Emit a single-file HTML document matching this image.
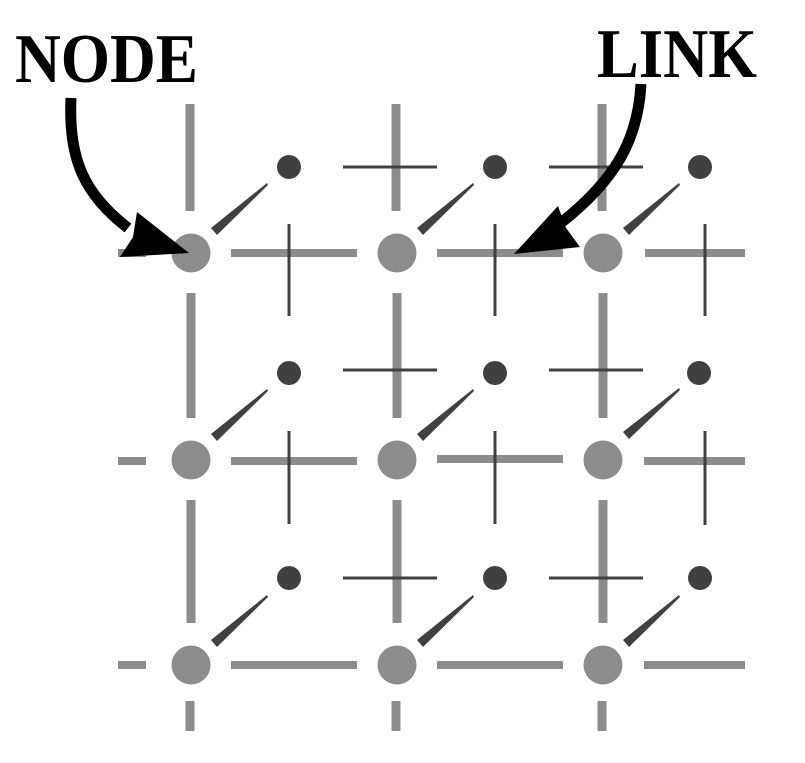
<!DOCTYPE html>
<html><head><style>html,body{margin:0;padding:0;background:#fff}svg{display:block}</style></head>
<body>
<svg width="805" height="763" viewBox="0 0 805 763" xmlns="http://www.w3.org/2000/svg">
<g stroke="#8c8c8c" stroke-width="9" fill="none">
<line x1="190" y1="104" x2="190" y2="211"/><line x1="396" y1="104" x2="396" y2="211"/><line x1="602" y1="104" x2="602" y2="211"/>
<line x1="191" y1="293" x2="191" y2="418"/><line x1="397" y1="293" x2="397" y2="418"/><line x1="603" y1="293" x2="603" y2="418"/>
<line x1="191" y1="500" x2="191" y2="623"/><line x1="397" y1="500" x2="397" y2="623"/><line x1="603" y1="500" x2="603" y2="623"/>
<line x1="190" y1="701" x2="190" y2="731"/><line x1="396" y1="701" x2="396" y2="731"/><line x1="602" y1="701" x2="602" y2="731"/>
<g stroke-width="8">
<line x1="118" y1="253" x2="146" y2="253"/><line x1="231" y1="253" x2="357" y2="253"/><line x1="437" y1="253" x2="563" y2="253"/><line x1="645" y1="253" x2="745" y2="253"/>
<line x1="118" y1="461" x2="146" y2="461"/><line x1="231" y1="461" x2="357" y2="461"/><line x1="437" y1="459" x2="563" y2="459"/><line x1="644" y1="461" x2="745" y2="461"/>
<line x1="118" y1="665" x2="146" y2="665"/><line x1="231" y1="665" x2="357" y2="665"/><line x1="437" y1="665" x2="563" y2="665"/><line x1="644" y1="665" x2="745" y2="665"/>
</g>
</g>
<g stroke="#404040" stroke-width="3">
<line x1="343" y1="167" x2="437" y2="167"/><line x1="549" y1="167" x2="643" y2="167"/>
<line x1="343" y1="370" x2="437" y2="370"/><line x1="549" y1="370" x2="643" y2="370"/>
<line x1="343" y1="578" x2="437" y2="578"/><line x1="549" y1="578" x2="643" y2="578"/>
<line x1="289" y1="224" x2="289" y2="316"/><line x1="495" y1="224" x2="495" y2="316"/><line x1="705" y1="224" x2="705" y2="316"/>
<line x1="289" y1="431" x2="289" y2="524"/><line x1="495" y1="431" x2="495" y2="524"/><line x1="705" y1="431" x2="705" y2="525"/>
</g>
<g fill="#8c8c8c">
<circle cx="191" cy="253" r="19.5"/><circle cx="397" cy="253" r="19.5"/><circle cx="603" cy="253" r="19.5"/>
<circle cx="191" cy="460" r="19.5"/><circle cx="397" cy="460" r="19.5"/><circle cx="603" cy="460" r="19.5"/>
<circle cx="191" cy="665" r="19.5"/><circle cx="397" cy="665" r="19.5"/><circle cx="603" cy="665" r="19.5"/>
</g>
<g fill="#404040">
<circle cx="289" cy="167" r="12"/><circle cx="495" cy="167" r="12"/><circle cx="700" cy="167" r="12"/>
<circle cx="289" cy="373" r="12"/><circle cx="495" cy="373" r="12"/><circle cx="699" cy="373" r="12"/>
<circle cx="289" cy="578" r="12"/><circle cx="495" cy="578" r="12"/><circle cx="700" cy="578" r="12"/>
<polygon points="211,228 217,235 268,185 267,183"/><polygon points="417,228 423,235 474,185 473,183"/><polygon points="623,228 629,235 680,185 679,183"/>
<polygon points="211,434 217,441 268,391 267,389"/><polygon points="417,434 423,441 474,391 473,389"/><polygon points="623,432 629,439 680,390 679,388"/>
<polygon points="211,640 217,647 268,597 267,595"/><polygon points="417,640 423,647 474,597 473,595"/><polygon points="623,640 629,647 680,597 679,595"/>
</g>
<g fill="none" stroke="#000" stroke-width="11">
<path d="M71,98 C68,160 85,195 128,228"/>
<path d="M641,84 C638,140 615,180 562,222"/>
</g>
<g fill="#000">
<polygon points="189,253 120,257 133,237 137,212"/>
<polygon points="514,254 558,206 566,228 580,247"/>
</g>
<g font-family="Liberation Serif, serif" font-weight="bold" font-size="70" fill="#000">
<text x="15" y="82" textLength="183" lengthAdjust="spacingAndGlyphs">NODE</text>
<text x="597" y="77" textLength="160" lengthAdjust="spacingAndGlyphs">LINK</text>
</g>
</svg>
</body></html>
